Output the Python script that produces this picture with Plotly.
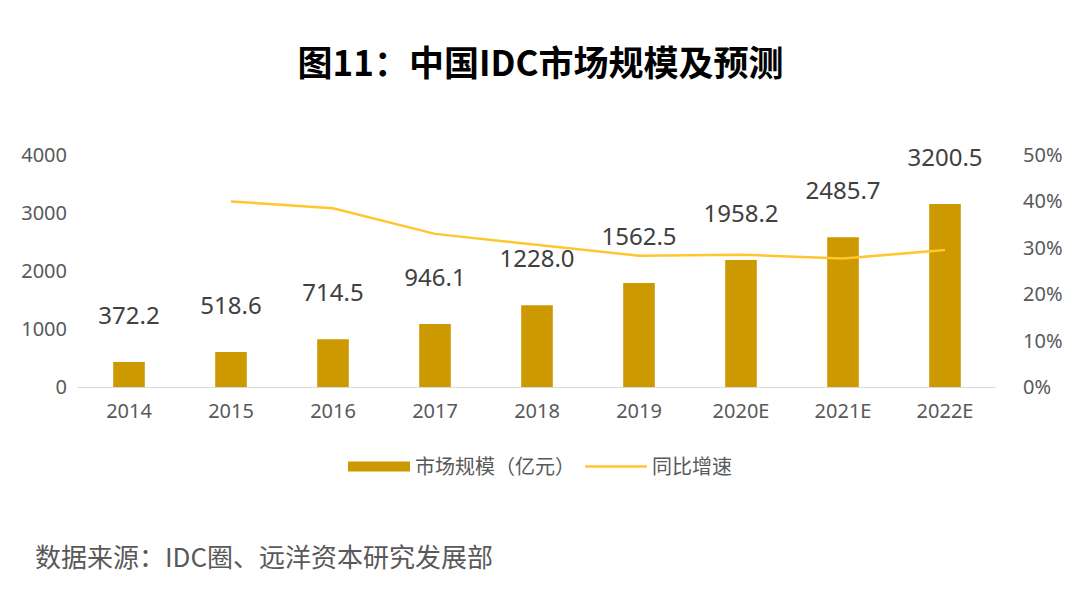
import plotly.graph_objects as go

categories = ["2014", "2015", "2016", "2017", "2018", "2019", "2020E", "2021E", "2022E"]
market_size = [432, 605, 824, 1088, 1411, 1791, 2188, 2580, 3155]
market_labels = ["372.2", "518.6", "714.5", "946.1", "1228.0", "1562.5", "1958.2", "2485.7", "3200.5"]
growth = [None, 0.400, 0.385, 0.330, 0.307, 0.283, 0.285, 0.277, 0.295]

bar_name = "市场规模（亿元）"
line_name = "同比增速"
title_text = "图11：中国IDC市场规模及预测"
source_text = "数据来源：IDC圈、远洋资本研究发展部"

FONT = "Noto Sans, Noto Sans CJK SC, sans-serif"
CJK = "Noto Sans CJK SC, Noto Sans, sans-serif"
BAR_COLOR = "#CC9900"
LINE_COLOR = "#FFC62E"

# page body has an 8px default margin: figure origin sits at (8, 8) in the window
OFF = 8
PLOT_L, PLOT_R, PLOT_T, PLOT_B = 78 - OFF, 996.5 - OFF, 155 - OFF, 386.7 - OFF

label_text = [t + "<br><span style='font-size:13px'> </span>" for t in market_labels]

fig = go.Figure()
fig.add_trace(go.Bar(
    x=categories, y=market_size, name=bar_name, showlegend=False,
    marker=dict(color=BAR_COLOR, line=dict(width=0)),
    text=label_text, textposition="outside", constraintext="none",
    textfont=dict(family=FONT, size=24, color="#404040"),
    cliponaxis=False, hoverinfo="x+y",
))
# legend proxy for the bars (wide rectangular swatch)
fig.add_trace(go.Scatter(
    x=[None], y=[None], name=bar_name, mode="lines",
    line=dict(color=BAR_COLOR, width=16),
))
fig.add_trace(go.Scatter(
    x=categories, y=growth, name=line_name, yaxis="y2",
    mode="lines", line=dict(color=LINE_COLOR, width=2.5),
    connectgaps=True,
))

fig.update_layout(
    width=1080, height=610,
    paper_bgcolor="white", plot_bgcolor="white",
    margin=dict(l=PLOT_L, r=1080 - PLOT_R, t=PLOT_T, b=610 - PLOT_B, autoexpand=False),
    bargap=0.69,
    showlegend=True,
    title=dict(text="<b>" + title_text + "</b>", x=(540.5 - OFF) / 1080, xanchor="center",
               y=1 - (64 - OFF) / 610, yanchor="middle",
               font=dict(family=CJK, size=35, color="black")),
    legend=dict(orientation="h", x=(540 - 78) / 918, xanchor="center",
                y=(386.7 - 466) / 231.7, yanchor="middle",
                font=dict(family=CJK, size=20, color="#595959"),
                itemwidth=62, traceorder="normal"),
    xaxis=dict(showgrid=False, showline=True, linecolor="#D9D9D9", linewidth=1,
               ticks="", tickfont=dict(family=FONT, size=20, color="#595959"),
               ticklabelstandoff=6),
    yaxis=dict(range=[0, 4000], dtick=1000, showgrid=False, zeroline=False,
               showline=False, ticks="",
               tickfont=dict(family=FONT, size=20, color="#595959"),
               ticklabelstandoff=10),
    yaxis2=dict(range=[0, 0.5], dtick=0.1, tickformat=".0%", overlaying="y",
                side="right", showgrid=False, zeroline=False, showline=False,
                ticks="", tickfont=dict(family=FONT, size=20, color="#595959"),
                ticklabelstandoff=26),
    annotations=[dict(text=source_text, xref="paper", yref="paper",
                      x=(33 - 78) / 918, xanchor="left", y=(386.7 - 555) / 231.7, yanchor="middle",
                      showarrow=False,
                      font=dict(family=CJK, size=26, color="#595959"))],
    shapes=[
        dict(type="line", xref="paper", yref="paper",
             x0=(1078.5 - 78) / 918, x1=(1078.5 - 78) / 918,
             y0=(386.7 - 0) / 231.7, y1=(386.7 - 495) / 231.7,
             line=dict(color="#E0E0E0", width=2)),
    ],
)

fig.write_html("out.html")
